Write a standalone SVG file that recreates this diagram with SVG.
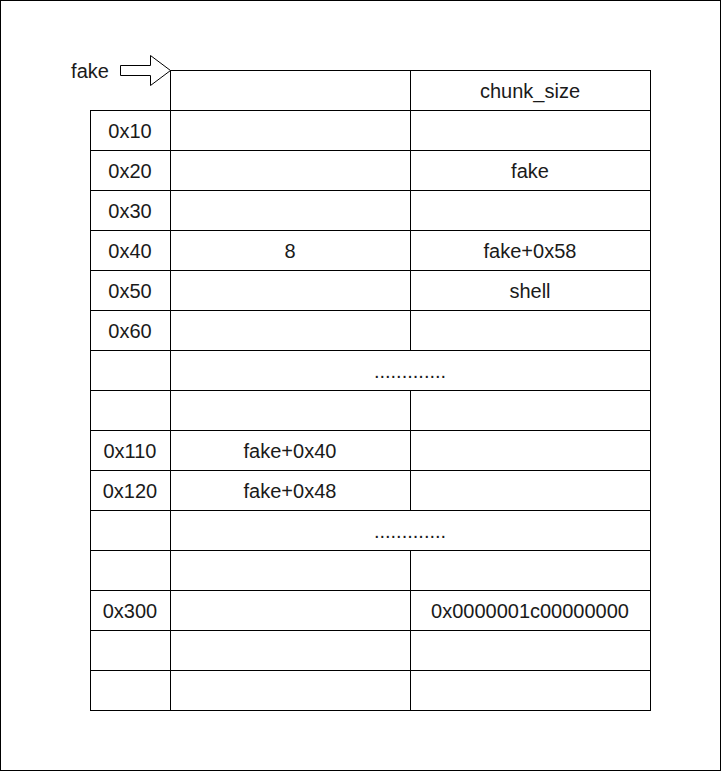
<svg xmlns="http://www.w3.org/2000/svg" width="721" height="771" viewBox="0 0 721 771">
<style>
.c{fill:#fff;stroke:#000;stroke-width:1}
.t{font-family:"Liberation Sans",Arial,sans-serif;font-size:20px;fill:#1a1a1a;text-anchor:middle}
</style>
<rect x="0.5" y="0.5" width="720" height="770" fill="#fff" stroke="#000" stroke-width="1"/>
<g id="table">
<rect class="c" x="170.5" y="70.5" width="240" height="40"/>
<rect class="c" x="410.5" y="70.5" width="240" height="40"/>
<text class="t" x="530" y="98">chunk_size</text>

<rect class="c" x="90.5" y="110.5" width="80" height="40"/>
<rect class="c" x="170.5" y="110.5" width="240" height="40"/>
<rect class="c" x="410.5" y="110.5" width="240" height="40"/>
<text class="t" x="130" y="138">0x10</text>

<rect class="c" x="90.5" y="150.5" width="80" height="40"/>
<rect class="c" x="170.5" y="150.5" width="240" height="40"/>
<rect class="c" x="410.5" y="150.5" width="240" height="40"/>
<text class="t" x="130" y="178">0x20</text>
<text class="t" x="530" y="178">fake</text>

<rect class="c" x="90.5" y="190.5" width="80" height="40"/>
<rect class="c" x="170.5" y="190.5" width="240" height="40"/>
<rect class="c" x="410.5" y="190.5" width="240" height="40"/>
<text class="t" x="130" y="218">0x30</text>

<rect class="c" x="90.5" y="230.5" width="80" height="40"/>
<rect class="c" x="170.5" y="230.5" width="240" height="40"/>
<rect class="c" x="410.5" y="230.5" width="240" height="40"/>
<text class="t" x="130" y="258">0x40</text>
<text class="t" x="290" y="258">8</text>
<text class="t" x="530" y="258">fake+0x58</text>

<rect class="c" x="90.5" y="270.5" width="80" height="40"/>
<rect class="c" x="170.5" y="270.5" width="240" height="40"/>
<rect class="c" x="410.5" y="270.5" width="240" height="40"/>
<text class="t" x="130" y="298">0x50</text>
<text class="t" x="530" y="298">shell</text>

<rect class="c" x="90.5" y="310.5" width="80" height="40"/>
<rect class="c" x="170.5" y="310.5" width="240" height="40"/>
<rect class="c" x="410.5" y="310.5" width="240" height="40"/>
<text class="t" x="130" y="338">0x60</text>

<rect class="c" x="90.5" y="350.5" width="80" height="40"/>
<rect class="c" x="170.5" y="350.5" width="480" height="40"/>
<text class="t" x="410" y="378">.............</text>

<rect class="c" x="90.5" y="390.5" width="80" height="40"/>
<rect class="c" x="170.5" y="390.5" width="240" height="40"/>
<rect class="c" x="410.5" y="390.5" width="240" height="40"/>

<rect class="c" x="90.5" y="430.5" width="80" height="40"/>
<rect class="c" x="170.5" y="430.5" width="240" height="40"/>
<rect class="c" x="410.5" y="430.5" width="240" height="40"/>
<text class="t" x="130" y="458">0x110</text>
<text class="t" x="290" y="458">fake+0x40</text>

<rect class="c" x="90.5" y="470.5" width="80" height="40"/>
<rect class="c" x="170.5" y="470.5" width="240" height="40"/>
<rect class="c" x="410.5" y="470.5" width="240" height="40"/>
<text class="t" x="130" y="498">0x120</text>
<text class="t" x="290" y="498">fake+0x48</text>

<rect class="c" x="90.5" y="510.5" width="80" height="40"/>
<rect class="c" x="170.5" y="510.5" width="480" height="40"/>
<text class="t" x="410" y="538">.............</text>

<rect class="c" x="90.5" y="550.5" width="80" height="40"/>
<rect class="c" x="170.5" y="550.5" width="240" height="40"/>
<rect class="c" x="410.5" y="550.5" width="240" height="40"/>

<rect class="c" x="90.5" y="590.5" width="80" height="40"/>
<rect class="c" x="170.5" y="590.5" width="240" height="40"/>
<rect class="c" x="410.5" y="590.5" width="240" height="40"/>
<text class="t" x="130" y="618">0x300</text>
<text class="t" x="530" y="618">0x0000001c00000000</text>

<rect class="c" x="90.5" y="630.5" width="80" height="40"/>
<rect class="c" x="170.5" y="630.5" width="240" height="40"/>
<rect class="c" x="410.5" y="630.5" width="240" height="40"/>

<rect class="c" x="90.5" y="670.5" width="80" height="40"/>
<rect class="c" x="170.5" y="670.5" width="240" height="40"/>
<rect class="c" x="410.5" y="670.5" width="240" height="40"/>
</g>
<g id="fake-pointer">
<text class="t" x="90" y="78">fake</text>
<polygon class="c" points="120.5,65.5 150.5,65.5 150.5,55.5 170.5,70.5 150.5,85.5 150.5,75.5 120.5,75.5"/>
</g>
</svg>
